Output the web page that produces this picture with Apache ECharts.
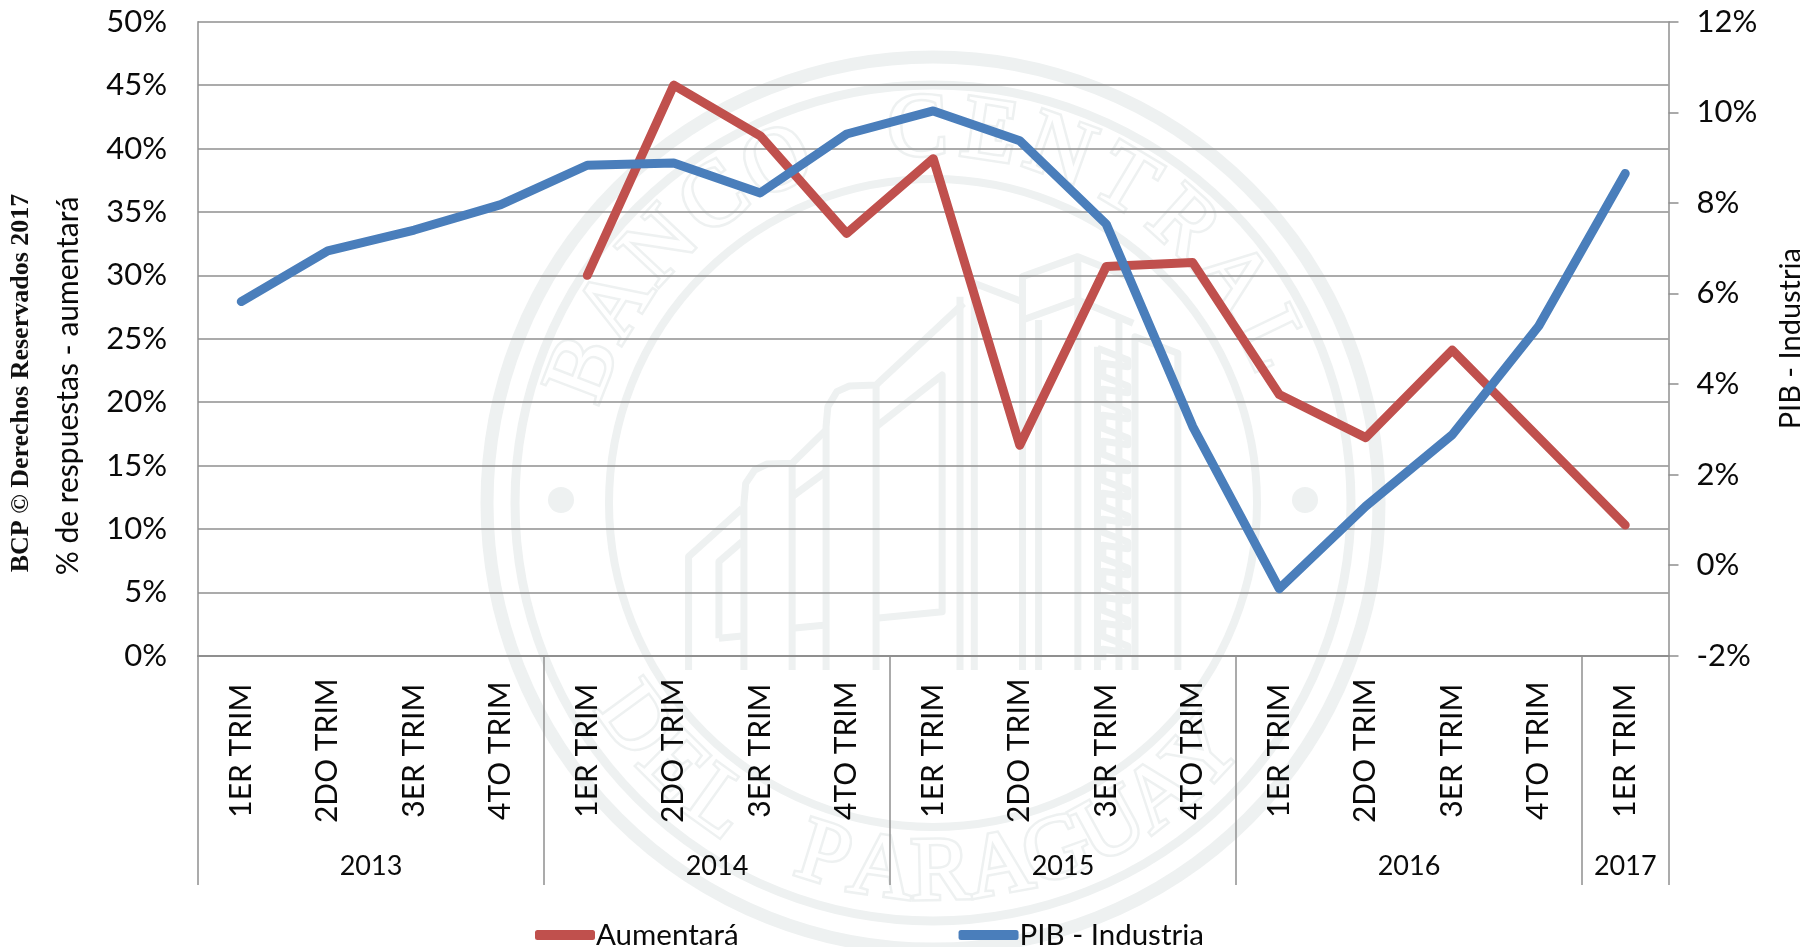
<!DOCTYPE html>
<html><head><meta charset="utf-8">
<style>html,body{margin:0;padding:0;background:#fff}#c{width:1816px;height:947px}</style>
<script src="https://cdn.jsdelivr.net/npm/echarts@6/dist/echarts.min.js"></script>
</head><body><div id="c"></div>
<script>
const quarters = ['1ER TRIM','2DO TRIM','3ER TRIM','4TO TRIM','1ER TRIM','2DO TRIM','3ER TRIM','4TO TRIM','1ER TRIM','2DO TRIM','3ER TRIM','4TO TRIM','1ER TRIM','2DO TRIM','3ER TRIM','4TO TRIM','1ER TRIM'];
const yearLabels = {2:'2013',6:'2014',10:'2015',14:'2016',16.5:'2017'};
const yearBoundaries = [0,4,8,12,16,17];
const aumentara = [null,null,null,null,30,45,41,33.3,39.2,16.6,30.7,31,20.6,17.2,24.1,17.2,10.3];
const pibIndustria = [5.82,6.94,7.4,7.96,8.83,8.88,8.22,9.52,10.03,9.37,7.53,3.06,-0.52,1.3,2.88,5.28,8.65];

const FONT='Lato', GRID='#8f8f8f', WM='#eef1f1', INK='#0a0a0a';
const CX=933, CY=503;
const wm=[];
function ring(r,w){wm.push({type:'circle',z:-5,silent:true,shape:{cx:CX,cy:CY,r},style:{fill:'none',stroke:WM,lineWidth:w}});}
ring(446,13);ring(418,9);ring(324,8);
[[561,500],[1305,500]].forEach(p=>wm.push({type:'circle',z:-5,silent:true,shape:{cx:p[0],cy:p[1],r:13},style:{fill:WM}}));
function arcText(str,start,step,r,top){
  [...str].forEach((ch,i)=>{
    if(ch===' ')return;
    const a=(start+i*step)*Math.PI/180;
    const x=CX+r*Math.sin(a), y=top?CY-r*Math.cos(a):CY+r*Math.cos(a);
    wm.push({type:'text',z:-5,silent:true,x,y,rotation:top?-a:a,
      style:{text:ch,fill:'#fff',stroke:WM,lineWidth:5,font:'90px "Liberation Serif"',align:'center',verticalAlign:'middle'}});
  });
}
arcText('BANCO CENTRAL',-69,11.1,372,true);
arcText('DEL PARAGUAY',-54,9.2,372,false);
const zx=x=>660+x/2.8, zy=y=>240+y/3;
function poly(pts){wm.push({type:'polyline',z:-5,silent:true,shape:{points:pts.map(p=>[zx(p[0]),zy(p[1])])},style:{fill:'none',stroke:WM,lineWidth:7,lineJoin:'round'}});}
[
 [[80,1290],[80,950],[230,805]],
 [[165,1195],[165,965],[230,905]],[[165,1195],[230,1188]],
 [[235,1290],[235,790],[240,730],[265,690],[300,672],[370,670],[465,570]],
 [[370,1290],[370,670]],[[370,770],[465,695]],[[370,1165],[465,1155]],
 [[465,1290],[465,560],[470,500],[495,455],[530,438],[605,435],[850,190]],
 [[605,1290],[605,435]],[[605,560],[790,405],[790,1115],[605,1135]],
 [[840,1290],[840,170]],
 [[880,1290],[880,130],[1015,185]],
 [[1015,1290],[1015,110],[1170,50],[1320,115]],
 [[1015,240],[1170,180],[1325,250]],
 [[1060,1290],[1060,240]],[[1170,1290],[1170,60]],
 [[1285,1290],[1285,240]],
 [[1330,1290],[1330,290],[1450,340],[1450,1290]],
 [[1225,1290],[1225,320]]
].forEach(poly);
for(let y=325;y<1240;y+=78){poly([[1225,y],[1310,y+35],[1310,y+55],[1240,y+45],[1240,y+78]]);}

const labels=[
 {type:'text',x:21,y:383,rotation:Math.PI/2,silent:true,style:{text:'BCP © Derechos Reservados 2017',font:'bold 26px "Liberation Serif"',fill:'#111',align:'center',verticalAlign:'middle'}},
 {type:'text',x:68,y:386,rotation:Math.PI/2,silent:true,style:{text:'% de respuestas - aumentará',font:'30px '+FONT,fill:INK,align:'center',verticalAlign:'middle'}}
];

const chart=echarts.init(document.getElementById('c'),null,{renderer:'canvas'});
chart.setOption({
 backgroundColor:'#fff',animation:false,
 textStyle:{fontFamily:FONT,color:INK},
 grid:[
  {left:198,right:147.5,top:21.7,bottom:291.3},
  {left:198,right:147.5,top:655.7,bottom:63.5-1.5}
 ],
 legend:{left:530,top:915,itemWidth:60,itemHeight:10,itemGap:220,icon:'roundRect',
  textStyle:{fontFamily:FONT,fontSize:29.5,color:INK,padding:[0,0,0,-4]},
  data:['Aumentará','PIB - Industria']},
 xAxis:[
  {type:'category',gridIndex:0,data:quarters,boundaryGap:true,position:'bottom',
   axisLine:{show:true,lineStyle:{color:GRID,width:2}},axisTick:{show:false},
   axisLabel:{interval:0,rotate:90,margin:95,align:'center',verticalAlign:'middle',fontFamily:FONT,fontSize:30,color:INK},
   splitLine:{show:false}},
  {type:'value',gridIndex:1,min:0,max:17,position:'top',
   axisLine:{show:false},
   axisTick:{show:false,customValues:yearBoundaries},
   axisLabel:{show:true,margin:-211,customValues:Object.keys(yearLabels).map(Number),formatter:v=>yearLabels[v]||'',fontFamily:FONT,fontSize:27,color:INK,verticalAlign:'middle',align:'center'},
   splitLine:{show:true,lineStyle:{color:GRID,width:1.5}}}
 ],
 yAxis:[
  {type:'value',gridIndex:0,min:0,max:50,interval:5,position:'left',
   axisLine:{show:true,lineStyle:{color:GRID,width:1.5}},axisTick:{show:false},
   axisLabel:{formatter:'{value}%',margin:31,fontFamily:FONT,fontSize:31,color:INK},
   splitLine:{show:true,lineStyle:{color:GRID,width:1.5}}},
  {type:'value',gridIndex:0,min:-2,max:12,interval:2,position:'right',
   axisLine:{show:true,lineStyle:{color:GRID,width:1.5}},axisTick:{show:true,length:10,lineStyle:{color:GRID,width:1.5}},
   axisLabel:{formatter:'{value}%',margin:28,fontFamily:FONT,fontSize:31,color:INK},
   splitLine:{show:false},
   name:'PIB - Industria',nameLocation:'middle',nameGap:108,nameRotate:90,nameTextStyle:{fontFamily:FONT,fontSize:29,color:INK}},
  {type:'value',gridIndex:1,min:0,max:1,show:false}
 ],
 graphic:{elements:wm.concat(labels)},
 series:[
  {name:'Aumentará',type:'line',xAxisIndex:0,yAxisIndex:0,data:aumentara,showSymbol:false,symbol:'none',z:3,
   lineStyle:{color:'#c0504d',width:9,cap:'round',join:'round'},itemStyle:{color:'#c0504d'}},
  {name:'PIB - Industria',type:'line',xAxisIndex:0,yAxisIndex:1,data:pibIndustria,showSymbol:false,symbol:'none',z:4,
   lineStyle:{color:'#4a7ebb',width:9,cap:'round',join:'round'},itemStyle:{color:'#4a7ebb'}}
 ]
});
</script></body></html>
